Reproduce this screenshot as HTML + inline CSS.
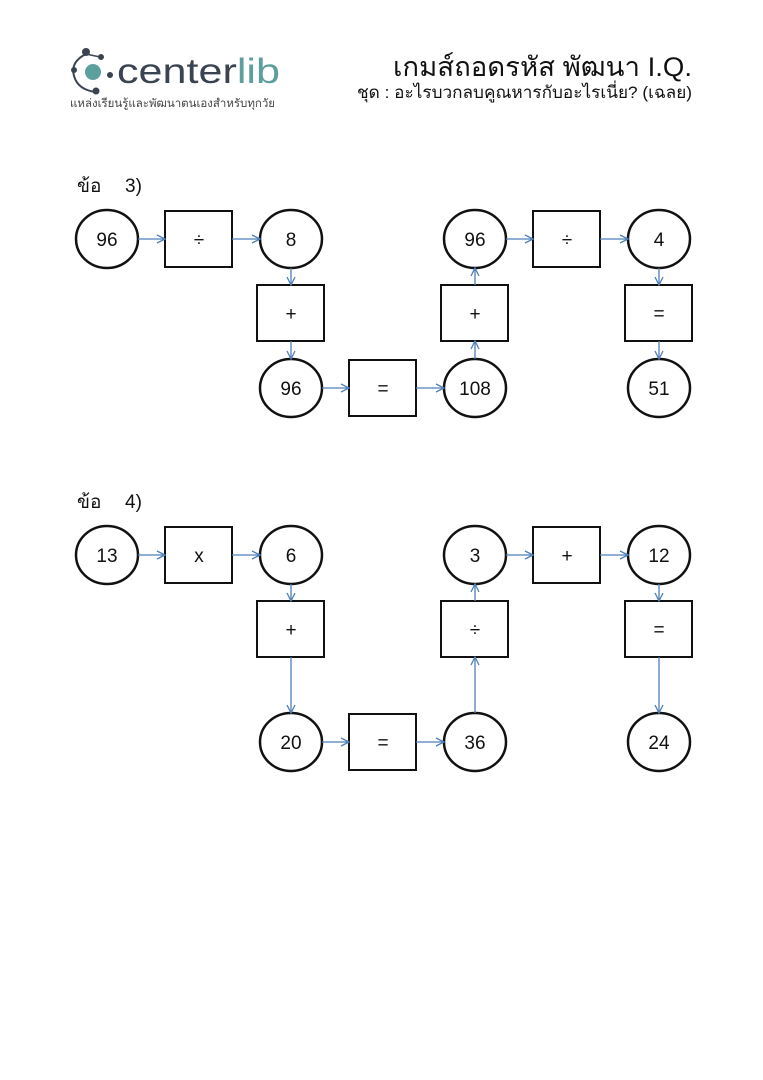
<!DOCTYPE html>
<html><head><meta charset="utf-8"><style>
html,body{margin:0;padding:0;background:#fff}
svg{display:block}
text{font-family:"Liberation Sans","Noto Sans CJK SC",sans-serif}
</style></head><body>
<svg width="763" height="1080" viewBox="0 0 763 1080" xmlns="http://www.w3.org/2000/svg">
<defs>
<marker id="a" markerWidth="10" markerHeight="10" refX="9" refY="5" orient="auto" markerUnits="userSpaceOnUse">
<path d="M1,1 L9,5 L1,9" fill="none" stroke="#4f7fb8" stroke-width="1.3"/>
</marker>
</defs>
<g>
<path d="M86,54 Q70,62 74,76 Q78,90 96,92" fill="none" stroke="#3a4450" stroke-width="2"/>
<path d="M86,54 L100,57" stroke="#3a4450" stroke-width="1.5"/>
<circle cx="86" cy="52" r="4" fill="#3a4450"/>
<circle cx="101" cy="57" r="3" fill="#3a4450"/>
<circle cx="74" cy="70" r="3" fill="#3a4450"/>
<circle cx="96" cy="91" r="3.5" fill="#3a4450"/>
<circle cx="110" cy="75" r="3" fill="#3a4450"/>
<circle cx="93" cy="72" r="8" fill="#5d9f9c"/>
<text x="117" y="83" font-size="35" fill="#3a4450" textLength="163" lengthAdjust="spacingAndGlyphs">center<tspan fill="#5d9f9c">lib</tspan></text>
<text x="70" y="107" font-size="11.5" fill="#444" textLength="205" lengthAdjust="spacingAndGlyphs">แหล่งเรียนรู้และพัฒนาตนเองสำหรับทุกวัย</text>
</g>
<text x="692" y="76" font-size="27" text-anchor="end" fill="#111" textLength="299" lengthAdjust="spacingAndGlyphs">เกมส์ถอดรหัส พัฒนา I.Q.</text>
<text x="692" y="98" font-size="17" text-anchor="end" fill="#111" textLength="335" lengthAdjust="spacingAndGlyphs">ชุด : อะไรบวกลบคูณหารกับอะไรเนี่ย? (เฉลย)</text>

<text x="77" y="192" font-size="19" fill="#111">ข้อ</text>
<text x="125" y="192" font-size="19" fill="#111">3)</text>
<text x="77" y="508" font-size="19" fill="#111">ข้อ</text>
<text x="125" y="508" font-size="19" fill="#111">4)</text>

<g fill="none" stroke="#111" stroke-width="2.5">
<ellipse cx="107" cy="239" rx="31" ry="29"/>
<ellipse cx="291" cy="239" rx="31" ry="29"/>
<ellipse cx="291" cy="388" rx="31" ry="29"/>
<ellipse cx="475" cy="388" rx="31" ry="29"/>
<ellipse cx="475" cy="239" rx="31" ry="29"/>
<ellipse cx="659" cy="239" rx="31" ry="29"/>
<ellipse cx="659" cy="388" rx="31" ry="29"/>
<ellipse cx="107" cy="555" rx="31" ry="29"/>
<ellipse cx="291" cy="555" rx="31" ry="29"/>
<ellipse cx="291" cy="742" rx="31" ry="29"/>
<ellipse cx="475" cy="742" rx="31" ry="29"/>
<ellipse cx="475" cy="555" rx="31" ry="29"/>
<ellipse cx="659" cy="555" rx="31" ry="29"/>
<ellipse cx="659" cy="742" rx="31" ry="29"/>
</g>
<g fill="none" stroke="#111" stroke-width="2">
<rect x="165" y="211" width="67" height="56"/>
<rect x="257" y="285" width="67" height="56"/>
<rect x="349" y="360" width="67" height="56"/>
<rect x="441" y="285" width="67" height="56"/>
<rect x="533" y="211" width="67" height="56"/>
<rect x="625" y="285" width="67" height="56"/>
<rect x="165" y="527" width="67" height="56"/>
<rect x="257" y="601" width="67" height="56"/>
<rect x="349" y="714" width="67" height="56"/>
<rect x="441" y="601" width="67" height="56"/>
<rect x="533" y="527" width="67" height="56"/>
<rect x="625" y="601" width="67" height="56"/>
</g>
<g stroke="#4f7fb8" stroke-width="1.3" marker-end="url(#a)">
<line x1="138" y1="239" x2="165" y2="239"/>
<line x1="232" y1="239" x2="260" y2="239"/>
<line x1="291" y1="268" x2="291" y2="285"/>
<line x1="291" y1="341" x2="291" y2="359"/>
<line x1="322" y1="388" x2="349" y2="388"/>
<line x1="416" y1="388" x2="444" y2="388"/>
<line x1="475" y1="359" x2="475" y2="341"/>
<line x1="475" y1="285" x2="475" y2="268"/>
<line x1="506" y1="239" x2="533" y2="239"/>
<line x1="600" y1="239" x2="628" y2="239"/>
<line x1="659" y1="268" x2="659" y2="285"/>
<line x1="659" y1="341" x2="659" y2="359"/>

<line x1="138" y1="555" x2="165" y2="555"/>
<line x1="232" y1="555" x2="260" y2="555"/>
<line x1="291" y1="584" x2="291" y2="601"/>
<line x1="291" y1="657" x2="291" y2="713"/>
<line x1="322" y1="742" x2="349" y2="742"/>
<line x1="416" y1="742" x2="444" y2="742"/>
<line x1="475" y1="713" x2="475" y2="657"/>
<line x1="475" y1="601" x2="475" y2="584"/>
<line x1="506" y1="555" x2="533" y2="555"/>
<line x1="600" y1="555" x2="628" y2="555"/>
<line x1="659" y1="584" x2="659" y2="601"/>
<line x1="659" y1="657" x2="659" y2="713"/>
</g>
<g font-size="19" text-anchor="middle" fill="#111">
<text x="107" y="246">96</text>
<text x="199" y="246">÷</text>
<text x="291" y="246">8</text>
<text x="291" y="320">+</text>
<text x="291" y="395">96</text>
<text x="383" y="395">=</text>
<text x="475" y="395">108</text>
<text x="475" y="320">+</text>
<text x="475" y="246">96</text>
<text x="567" y="246">÷</text>
<text x="659" y="246">4</text>
<text x="659" y="320">=</text>
<text x="659" y="395">51</text>

<text x="107" y="562">13</text>
<text x="199" y="562">x</text>
<text x="291" y="562">6</text>
<text x="291" y="636">+</text>
<text x="291" y="749">20</text>
<text x="383" y="749">=</text>
<text x="475" y="749">36</text>
<text x="475" y="636">÷</text>
<text x="475" y="562">3</text>
<text x="567" y="562">+</text>
<text x="659" y="562">12</text>
<text x="659" y="636">=</text>
<text x="659" y="749">24</text>
</g>
</svg>
</body></html>
